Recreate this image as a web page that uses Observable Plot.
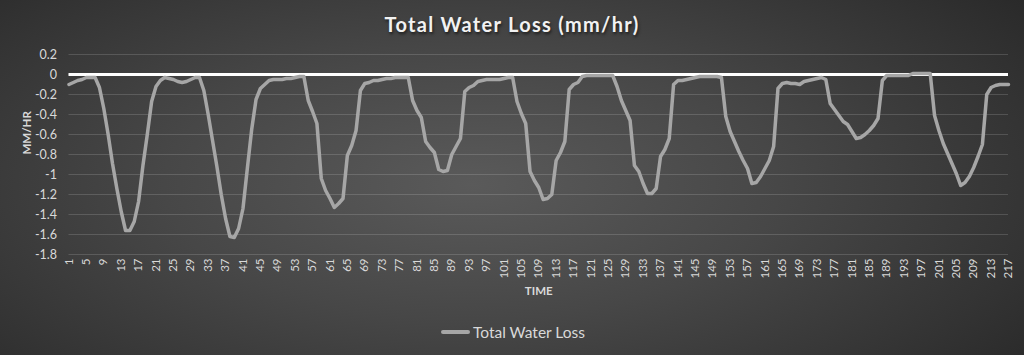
<!DOCTYPE html>
<html><head><meta charset="utf-8">
<script src="https://cdn.jsdelivr.net/npm/d3@7"></script>
<script src="https://cdn.jsdelivr.net/npm/@observablehq/plot@0.6"></script>
<style>
html,body{margin:0;padding:0;}
body{position:relative;width:1024px;height:355px;overflow:hidden;
  background:radial-gradient(ellipse 75% 95% at 46% 52%, #5a5a5a 0%, #474747 40%, #333333 75%, #242424 100%);
  font-family:Lato, "Open Sans", sans-serif;}
#title{position:absolute;left:0;top:10px;width:1024px;text-align:center;font-weight:bold;font-size:20px;
  color:#f2f2f2;letter-spacing:1.3px;text-shadow:1px 2px 3px rgba(0,0,0,0.6);line-height:28px;}
#chart{position:absolute;left:0;top:44px;}
#legend{position:absolute;left:441px;top:322px;height:20px;display:flex;align-items:center;color:#d9d9d9;font-size:15.5px;}
#legend .sw{width:29px;height:3.5px;background:#a6a6a6;margin-right:3px;border-radius:2px;}
</style></head><body>
<div id="title">Total Water Loss (mm/hr)</div>
<div id="chart"></div>
<div id="legend"><span class="sw"></span><span>Total Water Loss</span></div>
<script>
const seriesName = "Total Water Loss";
const yTicks = [0.2, 0, -0.2, -0.4, -0.6, -0.8, -1, -1.2, -1.4, -1.6, -1.8];
const timeIndex = d3.range(1, 218);
const xTicks = d3.range(1, 218, 4);
const lossValues = [
  -0.10, -0.08, -0.06, -0.05, -0.03, -0.03, -0.03, -0.13, -0.34, -0.60,
  -0.89, -1.14, -1.37, -1.56, -1.56, -1.47, -1.27, -0.91, -0.60, -0.27,
  -0.12, -0.06, -0.03, -0.04, -0.05, -0.07, -0.08, -0.07, -0.05, -0.03,
  -0.03, -0.16, -0.40, -0.66, -0.92, -1.20, -1.44, -1.62, -1.63, -1.54,
  -1.34, -0.94, -0.55, -0.25, -0.14, -0.10, -0.06, -0.05, -0.05, -0.05,
  -0.04, -0.04, -0.03, -0.02, -0.02, -0.26, -0.37, -0.49, -1.04, -1.16,
  -1.24, -1.33, -1.29, -1.24, -0.81, -0.71, -0.56, -0.16, -0.09, -0.08,
  -0.06, -0.06, -0.05, -0.04, -0.04, -0.03, -0.03, -0.03, -0.03, -0.26,
  -0.36, -0.43, -0.67, -0.73, -0.78, -0.95, -0.97, -0.96, -0.80, -0.72,
  -0.64, -0.17, -0.13, -0.11, -0.07, -0.06, -0.05, -0.05, -0.05, -0.05,
  -0.04, -0.03, -0.03, -0.27, -0.39, -0.49, -0.97, -1.06, -1.13, -1.25,
  -1.24, -1.20, -0.86, -0.78, -0.67, -0.15, -0.10, -0.08, -0.02, -0.01,
  -0.01, -0.01, -0.01, -0.01, -0.01, -0.01, -0.12, -0.26, -0.36, -0.46,
  -0.91, -0.97, -1.09, -1.19, -1.19, -1.14, -0.82, -0.75, -0.64, -0.10,
  -0.06, -0.06, -0.05, -0.04, -0.03, -0.02, -0.02, -0.02, -0.02, -0.02,
  -0.03, -0.42, -0.57, -0.67, -0.77, -0.86, -0.94, -1.09, -1.08, -1.02,
  -0.94, -0.86, -0.72, -0.14, -0.09, -0.08, -0.09, -0.09, -0.10, -0.07,
  -0.06, -0.05, -0.04, -0.03, -0.05, -0.29, -0.35, -0.41, -0.47, -0.50,
  -0.57, -0.64, -0.63, -0.60, -0.56, -0.51, -0.44, -0.06, -0.01, -0.01,
  -0.01, -0.01, -0.01, -0.01, 0.01, 0.01, 0.01, 0.01, 0.01, -0.41,
  -0.56, -0.69, -0.79, -0.89, -0.99, -1.11, -1.08, -1.02, -0.93, -0.82,
  -0.70, -0.20, -0.13, -0.11, -0.10, -0.10, -0.10
];
const rows = timeIndex.map((t, i) => ({time: t, loss: lossValues[i]}));
const fmt = d => String(Math.round(d * 10) / 10);

const chart = Plot.plot({
  width: 1024, height: 270,
  marginLeft: 68.5, marginRight: 16, marginTop: 10, marginBottom: 60,
  style: {background: "transparent", fontFamily: "Lato, 'Open Sans', sans-serif", color: "#d9d9d9", overflow: "visible"},
  x: {type: "linear", domain: [1, 217]},
  y: {domain: [-1.8, 0.2]},
  marks: [
    Plot.ruleY(yTicks, {stroke: "#ffffff", strokeOpacity: 0.15, strokeWidth: 1}),
    Plot.axisY({ticks: yTicks, tickSize: 0, tickPadding: 12, tickFormat: fmt, fontSize: 12.5, fill: "#d9d9d9", label: null}),
    Plot.axisX({ticks: xTicks, tickSize: 0, tickPadding: 4, tickRotate: -90, fontSize: 11.5, fill: "#d9d9d9", label: null, tickFormat: d => String(d)}),
    Plot.text(["MM/HR"], {frameAnchor: "left", dx: -42, rotate: -90, fontWeight: "bold", fontSize: 11.5, fill: "#d9d9d9"}),
    Plot.text(["TIME"], {frameAnchor: "bottom", dy: 40, fontWeight: "bold", fontSize: 11.5, fill: "#d9d9d9"}),
    Plot.ruleY([0], {stroke: "#ffffff", strokeWidth: 3}),
    Plot.line(rows, {x: "time", y: "loss", stroke: "#a6a6a6", strokeWidth: 3.5, strokeLinejoin: "round"})
  ]
});
document.getElementById("chart").appendChild(chart);
</script>
</body></html>
